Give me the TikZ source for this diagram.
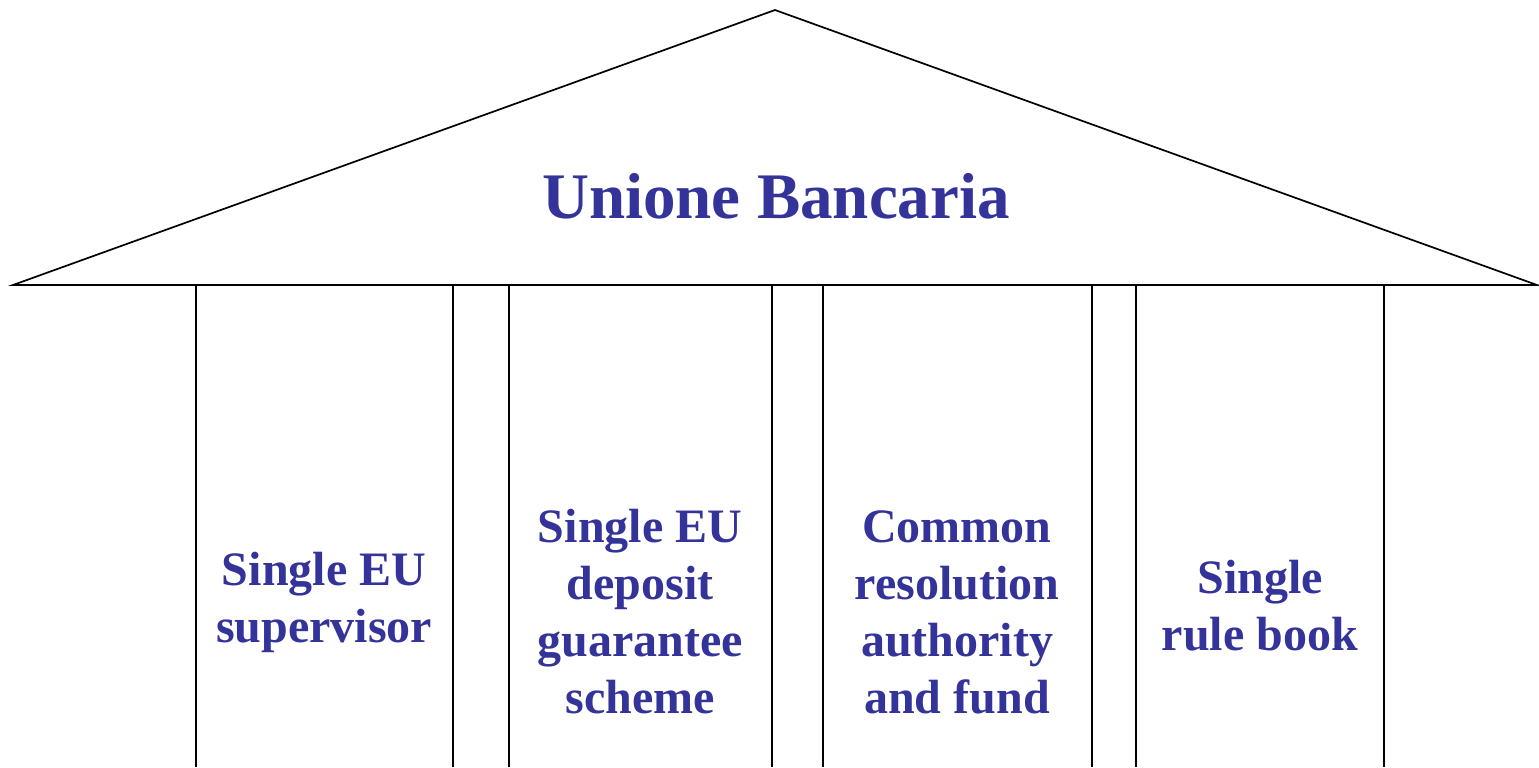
\documentclass[tikz,border=0pt]{standalone}
\usepackage{fontspec}
\setmainfont{Liberation Serif}
\usepackage{tikz}
\definecolor{ubblue}{RGB}{51,51,153}

\begin{document}
\begin{tikzpicture}[x=0.5pt,y=-0.5pt,line width=0.85pt,
	title/.style={text=ubblue,font=\bfseries\fontsize{32.5}{36}\selectfont},
	pillar/.style={text=ubblue,align=center,font=\bfseries\fontsize{24}{28.5}\selectfont}]
	\useasboundingbox (0,0) rectangle (1539,767);

	\coordinate (apex) at (775,10);
	\coordinate (eaveL) at (13,285);
	\coordinate (eaveR) at (1537,285);

	\draw (eaveL) -- (apex) -- (eaveR) -- cycle;

	\foreach \x in {196,453,509,772,823,1092,1136,1384}
		\draw (\x,285) -- (\x,767);

	\node[title] (roof) at (776,196) {Unione Bancaria};

	\node[pillar] (supervisor) at (324,602) {Single EU\\supervisor};
	\node[pillar] (deposit) at (640,612) {Single EU\\deposit\\guarantee\\scheme};
	\node[pillar] (resolution) at (957,612) {Common\\resolution\\authority\\and fund};
	\node[pillar] (rulebook) at (1260,606) {Single\\rule book};
\end{tikzpicture}
\end{document}
